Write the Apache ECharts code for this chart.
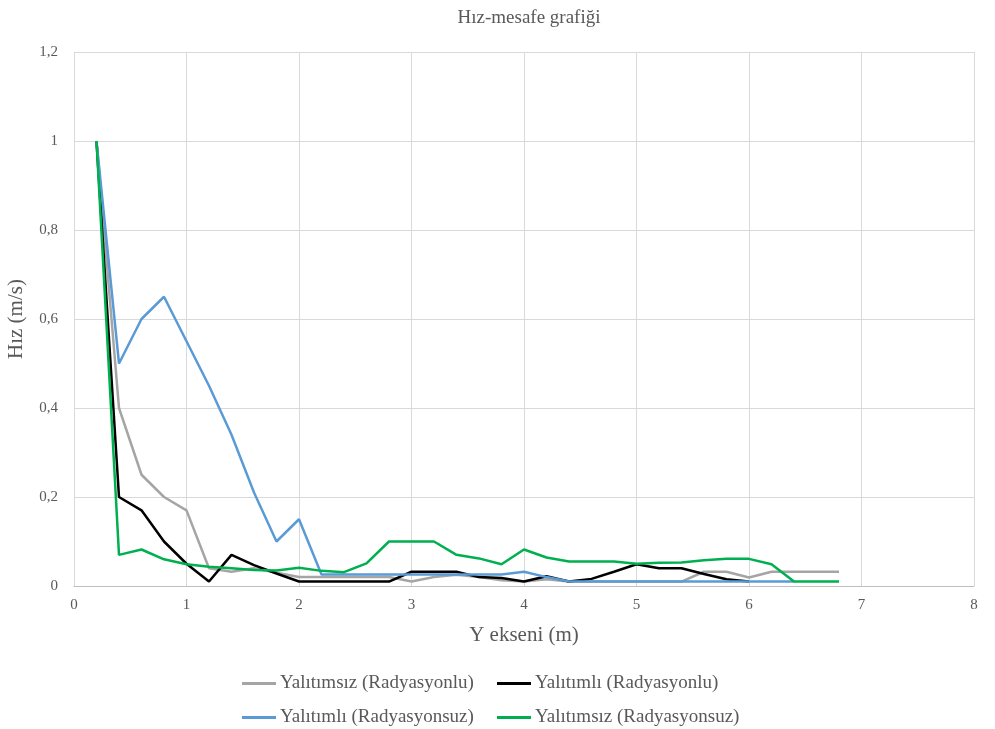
<!DOCTYPE html>
<html>
<head>
<meta charset="utf-8">
<style>
  html, body { margin: 0; padding: 0; background: #ffffff; }
  #chart { width: 995px; height: 729px; }
</style>
<script src="https://cdn.jsdelivr.net/npm/echarts@6/dist/echarts.min.js"></script>
</head>
<body>
<div id="chart"></div>
<script>
// Distance along the Y axis (m) for each measurement station
const distance = [0.2, 0.4, 0.6, 0.8, 1.0, 1.2, 1.4, 1.6, 1.8, 2.0, 2.2, 2.4, 2.6, 2.8, 3.0, 3.2, 3.4,
                  3.6, 3.8, 4.0, 4.2, 4.4, 4.6, 4.8, 5.0, 5.2, 5.4, 5.6, 5.8, 6.0, 6.2, 6.4, 6.6, 6.8];

// Velocity (m/s) for each configuration
const yalitimsizRadyasyonlu = [1, 0.4, 0.25, 0.2, 0.17, 0.04, 0.032, 0.04, 0.03, 0.02, 0.02, 0.02, 0.02, 0.02,
                               0.01, 0.02, 0.025, 0.02, 0.013, 0.01, 0.015, 0.01, 0.01, 0.01, 0.01, 0.01, 0.01,
                               0.032, 0.032, 0.019, 0.032, 0.032, 0.032, 0.032];
const yalitimliRadyasyonlu = [1, 0.2, 0.17, 0.1, 0.05, 0.01, 0.07, 0.047, 0.028, 0.01, 0.01, 0.01, 0.01, 0.01,
                              0.032, 0.032, 0.032, 0.02, 0.018, 0.01, 0.022, 0.01, 0.016, 0.032, 0.049, 0.04, 0.04,
                              0.027, 0.015, 0.01];
const yalitimliRadyasyonsuz = [1, 0.5, 0.6, 0.65, 0.55, 0.45, 0.34, 0.21, 0.1, 0.15, 0.026, 0.026, 0.026, 0.026,
                               0.026, 0.026, 0.026, 0.026, 0.026, 0.032, 0.02, 0.01, 0.01, 0.01, 0.01, 0.01, 0.01,
                               0.01, 0.01, 0.01, 0.01, 0.01];
const yalitimsizRadyasyonsuz = [1, 0.07, 0.082, 0.06, 0.049, 0.043, 0.04, 0.036, 0.035, 0.041, 0.034, 0.031, 0.051, 0.1,
                                0.1, 0.1, 0.07, 0.062, 0.049, 0.082, 0.064, 0.055, 0.055, 0.055, 0.05, 0.052, 0.053,
                                0.058, 0.061, 0.061, 0.049, 0.01, 0.01, 0.01];

const seriesNames = ['Yalıtımsız (Radyasyonlu)', 'Yalıtımlı (Radyasyonlu)',
                     'Yalıtımlı (Radyasyonsuz)', 'Yalıtımsız (Radyasyonsuz)'];
const seriesValues = [yalitimsizRadyasyonlu, yalitimliRadyasyonlu, yalitimliRadyasyonsuz, yalitimsizRadyasyonsuz];
const seriesColors = ['#a5a5a5', '#000000', '#5b9bd5', '#00b050'];

const xTicks = { min: 0, max: 8, interval: 1 };
const yTicks = { min: 0, max: 1.2, interval: 0.2 };

const FONT = '"Liberation Serif", "DejaVu Serif", serif';
const TEXT = '#595959';

function pairs(values) {
  return values.map((v, i) => [distance[i], v]);
}

const chart = echarts.init(document.getElementById('chart'), null, { renderer: 'canvas' });

// One legend per entry, laid out as a 2 x 2 grid under the plot
const legendPos = [
  { left: 242, top: 674 }, { left: 497, top: 674 },
  { left: 242, top: 708 }, { left: 497, top: 708 }
];

chart.setOption({
  animation: false,
  backgroundColor: '#ffffff',
  title: {
    text: 'Hız-mesafe grafiği',
    left: 524, top: 4, textAlign: 'center',
    textStyle: { fontFamily: FONT, fontSize: 19, fontWeight: 'normal', color: TEXT }
  },
  legend: seriesNames.map((name, i) => ({
    data: [name],
    left: legendPos[i].left, top: legendPos[i].top,
    padding: 0,
    itemWidth: 34, itemHeight: 3, itemGap: 0,
    icon: 'rect',
    textStyle: { fontFamily: FONT, fontSize: 19, color: TEXT, padding: [0, 0, 0, -1] },
    selectedMode: false
  })),
  grid: {
    left: 74, right: 21, top: 52, bottom: 143,
    containLabel: false, outerBoundsMode: 'none'
  },
  xAxis: {
    type: 'value',
    min: xTicks.min, max: xTicks.max, interval: xTicks.interval,
    name: 'Y ekseni (m)', nameLocation: 'middle', nameGap: 39,
    nameTextStyle: { fontFamily: FONT, fontSize: 21, color: TEXT },
    axisLine: { show: true, lineStyle: { color: '#bfbfbf', width: 1 } },
    axisTick: { show: false },
    axisLabel: { fontFamily: FONT, fontSize: 15, color: TEXT, margin: 12 },
    splitLine: { show: true, lineStyle: { color: '#d9d9d9', width: 1 } }
  },
  yAxis: {
    type: 'value',
    min: yTicks.min, max: yTicks.max, interval: yTicks.interval,
    name: 'Hız (m/s)', nameLocation: 'middle', nameGap: 47, nameRotate: 90,
    nameTextStyle: { fontFamily: FONT, fontSize: 21, color: TEXT },
    axisLine: { show: false },
    axisTick: { show: false },
    axisLabel: {
      fontFamily: FONT, fontSize: 15, color: TEXT, margin: 16,
      formatter: v => String(Math.round(v * 10) / 10).replace('.', ',')
    },
    splitLine: { show: true, lineStyle: { color: '#d9d9d9', width: 1 } }
  },
  series: seriesNames.map((name, i) => ({
    name: name,
    type: 'line',
    data: pairs(seriesValues[i]),
    showSymbol: false,
    symbol: 'none',
    color: seriesColors[i],
    lineStyle: { color: seriesColors[i], width: 2.5 },
    z: 2 + i
  }))
});
</script>
</body>
</html>
